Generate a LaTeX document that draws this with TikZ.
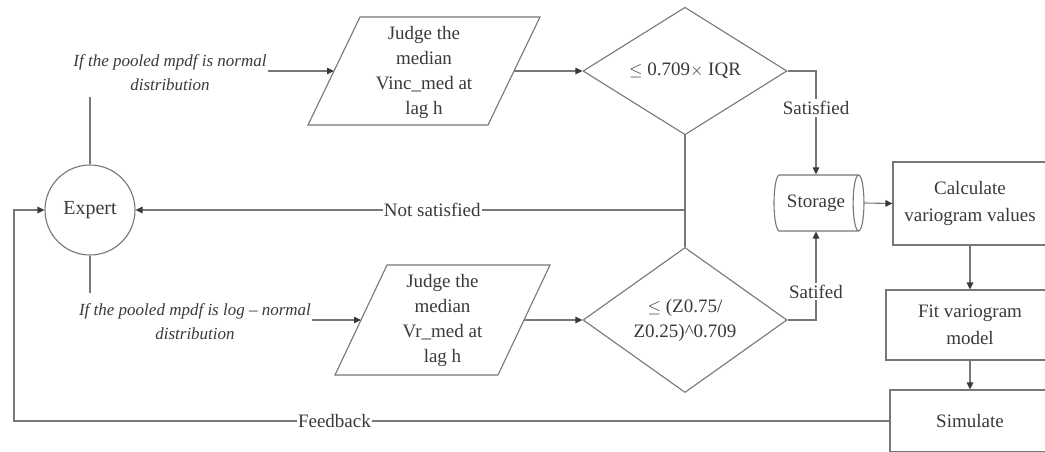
\documentclass[tikz,border=0pt]{standalone}
\usepackage{fontspec}
\setmainfont{Liberation Serif}
\usetikzlibrary{shapes.geometric,arrows.meta,calc}
\definecolor{linegray}{HTML}{777777}
\definecolor{inkgray}{HTML}{3A3A3A}

\begin{document}
\begin{tikzpicture}[x=1pt,y=-1pt,
  every node/.style={text=inkgray,font=\fontsize{19}{25}\selectfont,inner sep=0pt},
  conn/.style={draw=linegray,line width=1.1pt},
  arr/.style={conn,-{Triangle[length=7pt,width=6.5pt,color=inkgray]}},
  note/.style={font=\itshape\fontsize{17}{24}\selectfont,align=center},
  lab/.style={fill=white,inner xsep=1pt,inner ysep=2pt},
  decision/.style={diamond,draw=linegray,line width=1.1pt,minimum width=204pt,minimum height=127pt,align=center},
  procbox/.style={rectangle,draw=linegray,line width=1.1pt,align=center,font=\fontsize{19}{27}\selectfont},
  store/.style={cylinder,draw=linegray,line width=1.1pt,minimum width=56pt,minimum height=90pt,aspect=0.65},
  expertnode/.style={circle,draw=linegray,line width=1.1pt,minimum size=90pt,font=\fontsize{20}{25}\selectfont}
]
\useasboundingbox (0,0) rectangle (1045,451);
\fill[white] (0,0) rectangle (1045,451);

% expert and the two conditions
\node[expertnode] (expert) at (90,210) {Expert};
\node[note] (topnote) at (170,73) {If the pooled mpdf is normal\\distribution};
\node[note] (botnote) at (195,322) {If the pooled mpdf is log -- normal\\distribution};
\coordinate (t1) at (90,97);
\coordinate (t2) at (90,293);
\coordinate (n1) at (268,71);
\coordinate (n2) at (312,320);

% input parallelograms
\node[align=center] (p1) at (424,72) {Judge the\\median\\Vinc\_med at\\lag h};
\draw[conn] ($(p1)+(-116,53)$) -- ($(p1)+(64,53)$) -- ($(p1)+(116,-55)$) -- ($(p1)+(-64,-55)$) -- cycle;
\coordinate (p1w) at ($(p1)+(-90,-1)$);
\coordinate (p1e) at ($(p1)+(90,-1)$);

\node[align=center] (p2) at (442.5,320) {Judge the\\median\\Vr\_med at\\lag h};
\draw[conn] ($(p2)+(-107.5,55)$) -- ($(p2)+(55.5,55)$) -- ($(p2)+(107.5,-55)$) -- ($(p2)+(-55.5,-55)$) -- cycle;
\coordinate (p2w) at ($(p2)+(-81.5,0)$);
\coordinate (p2e) at ($(p2)+(81.5,0)$);

% decisions
\node[decision] (d1) at (685,71) {$\le$ 0.709$\times$ IQR};
\node[decision] (d2) at (685,320) {$\le$ (Z0.75/\\Z0.25)\^{}0.709};
\coordinate (j) at (685,210);

% storage and processing
\node[store] (store) at (816,203) {Storage};
\node[procbox,minimum width=154pt,minimum height=83pt] (calc) at (970,203.5) {Calculate\\variogram values};
\node[procbox,minimum width=168pt,minimum height=70pt] (fit) at (970,325) {Fit variogram\\model};
\node[procbox,minimum width=160pt,minimum height=62pt] (sim) at (970,421) {Simulate};
\coordinate (fb) at (14,421);

% connectors
\draw[conn] (t1) -- (expert.north);
\draw[conn] (expert.south) -- (t2);
\draw[arr] (n1) -- (p1w);
\draw[arr] (p1e) -- (d1.west);
\draw[arr] (n2) -- (p2w);
\draw[arr] (p2e) -- (d2.west);
\draw[conn] (d1.south) -- (d2.north);
\draw[arr] (j) -- node[lab,pos=0.46]{Not satisfied} (expert.east);
\draw[arr] (d1.east) -| node[lab,pos=0.68]{Satisfied} (store.north);
\draw[arr] (d2.east) -| node[lab,pos=0.66]{Satifed} (store.south);
\draw[arr] (store.east) -- (calc.west);
\draw[arr] (calc.south) -- (fit.north);
\draw[arr] (fit.south) -- (sim.north);
\draw[arr] (sim.west) -- node[lab,pos=0.634]{Feedback} (fb) |- (expert.west);
\end{tikzpicture}
\end{document}
